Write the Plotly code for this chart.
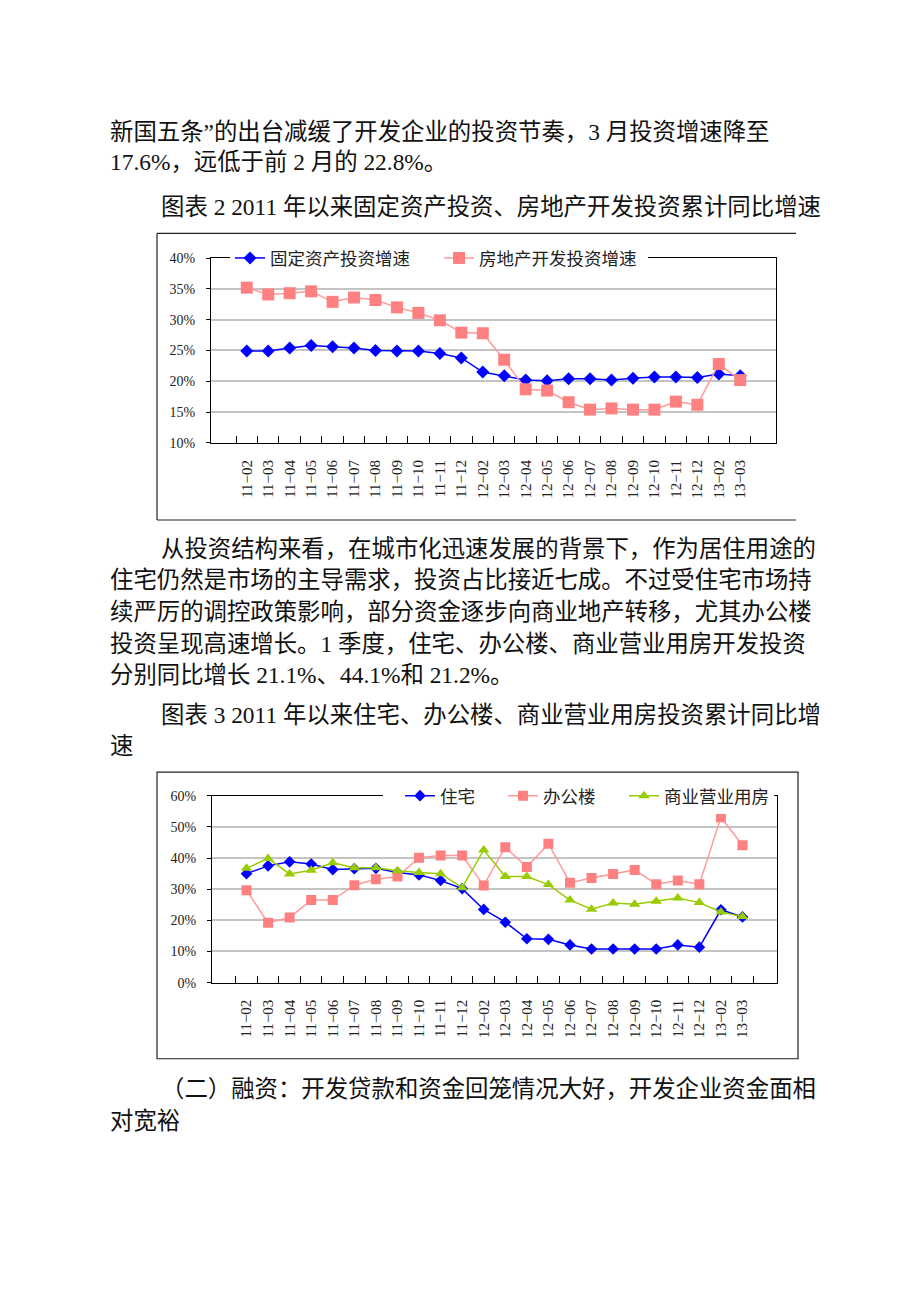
import plotly.graph_objects as go

W, H = 920, 1302

# ---------------- data ----------------
categories = ["11−02", "11−03", "11−04", "11−05", "11−06", "11−07", "11−08", "11−09",
              "11−10", "11−11", "11−12", "12−02", "12−03", "12−04", "12−05", "12−06",
              "12−07", "12−08", "12−09", "12−10", "12−11", "12−12", "13−02", "13−03"]

fixed_asset = [24.9, 24.9, 25.4, 25.8, 25.6, 25.4, 25.0, 24.9, 24.9, 24.5, 23.8,
               21.5, 20.9, 20.2, 20.1, 20.4, 20.4, 20.2, 20.5, 20.7, 20.7, 20.6,
               21.2, 20.9]
real_estate = [35.2, 34.1, 34.3, 34.6, 32.9, 33.6, 33.2, 32.0, 31.1, 29.9, 27.9,
               27.8, 23.5, 18.7, 18.5, 16.6, 15.4, 15.6, 15.4, 15.4, 16.7, 16.2,
               22.8, 20.2]

residential = [35.0, 37.5, 38.8, 38.1, 36.3, 36.6, 36.7, 35.4, 34.6, 32.8, 30.2,
               23.5, 19.4, 14.1, 13.9, 12.1, 10.8, 10.8, 10.8, 10.8, 12.1, 11.4,
               23.4, 21.1]
office = [29.7, 19.2, 20.9, 26.5, 26.5, 31.3, 33.2, 34.1, 40.1, 40.8, 40.8,
          31.2, 43.5, 37.1, 44.6, 32.1, 33.6, 34.9, 36.2, 31.6, 32.8, 31.6,
          53.1, 44.1]
commercial = [36.7, 39.9, 34.9, 36.1, 38.5, 36.9, 36.9, 35.9, 35.4, 35.0, 30.5,
              42.6, 34.1, 34.1, 31.5, 26.5, 23.6, 25.6, 25.2, 26.1, 27.2, 25.7,
              22.7, 21.2]

chart1_names = ["固定资产投资增速", "房地产开发投资增速"]
chart2_names = ["住宅", "办公楼", "商业营业用房"]

chart1_ticks = [10, 15, 20, 25, 30, 35, 40]
chart2_ticks = [0, 10, 20, 30, 40, 50, 60]

text_lines = [
    "新国五条”的出台减缓了开发企业的投资节奏，3 月投资增速降至",
    "17.6%，远低于前 2 月的 22.8%。",
    "图表 2 2011 年以来固定资产投资、房地产开发投资累计同比增速",
    "从投资结构来看，在城市化迅速发展的背景下，作为居住用途的",
    "住宅仍然是市场的主导需求，投资占比接近七成。不过受住宅市场持",
    "续严厉的调控政策影响，部分资金逐步向商业地产转移，尤其办公楼",
    "投资呈现高速增长。1 季度，住宅、办公楼、商业营业用房开发投资",
    "分别同比增长 21.1%、44.1%和 21.2%。",
    "图表 3 2011 年以来住宅、办公楼、商业营业用房投资累计同比增",
    "速",
    "（二）融资：开发贷款和资金回笼情况大好，开发企业资金面相",
    "对宽裕",
]
# layout of the text lines (left x, centre y) in pixels
text_pos = [(108, 126), (108, 157), (159, 202), (159, 548), (108, 580), (108, 612),
            (108, 644), (108, 676), (159, 716), (108, 748), (159, 1095), (108, 1127)]

# ---------------- helpers ----------------
def px(x):
    return x / W

def py(y):
    return 1 - y / H

BLUE = "#0000FF"
PINK = "#FF8080"
PINK_LINE = "#FF9A9A"
GREEN = "#99CC00"
CJK = "Noto Sans CJK SC"
SERIF = "Liberation Serif, Noto Sans CJK SC"

fig = go.Figure()

fig.add_trace(go.Scatter(x=categories, y=fixed_asset, name=chart1_names[0], mode="lines+markers",
                         line=dict(color=BLUE, width=1.5),
                         marker=dict(symbol="diamond", size=10, color=BLUE),
                         xaxis="x", yaxis="y", legend="legend"))
fig.add_trace(go.Scatter(x=categories, y=real_estate, name=chart1_names[1], mode="lines+markers",
                         line=dict(color=PINK_LINE, width=1.5),
                         marker=dict(symbol="square", size=12, color=PINK),
                         xaxis="x", yaxis="y", legend="legend"))

fig.add_trace(go.Scatter(x=categories, y=residential, name=chart2_names[0], mode="lines+markers",
                         line=dict(color=BLUE, width=1.5),
                         marker=dict(symbol="diamond", size=9, color=BLUE),
                         xaxis="x2", yaxis="y2", legend="legend2"))
fig.add_trace(go.Scatter(x=categories, y=office, name=chart2_names[1], mode="lines+markers",
                         line=dict(color=PINK_LINE, width=1.5),
                         marker=dict(symbol="square", size=10, color=PINK),
                         xaxis="x2", yaxis="y2", legend="legend3"))
fig.add_trace(go.Scatter(x=categories, y=commercial, name=chart2_names[2], mode="lines+markers",
                         line=dict(color=GREEN, width=1.5),
                         marker=dict(symbol="triangle-up", size=10, color=GREEN),
                         xaxis="x2", yaxis="y2", legend="legend4"))

xcommon = dict(type="category", categoryorder="array", categoryarray=categories,
               tickson="boundaries", ticks="inside", ticklen=7, tickcolor="black",
               showline=True, linecolor="black", linewidth=1, mirror=True,
               showgrid=False, tickangle=-90,
               tickfont=dict(family="Liberation Serif", size=15, color="#222"),
               ticklabelstandoff=10)
ycommon = dict(ticks="outside", ticklen=4, tickcolor="black",
               showline=True, linecolor="black", linewidth=1, mirror=True,
               showgrid=True, gridcolor="#C4C4C4", gridwidth=1.5, zeroline=False,
               ticklabelstandoff=8,
               tickfont=dict(family="Liberation Serif", size=14, color="#222"))

legfont = dict(family=CJK, size=17.5, color="#222")

def leg(x, y, ew):
    return dict(x=px(x), y=py(y), xanchor="left", yanchor="middle",
                orientation="h", bgcolor="white", borderwidth=0,
                font=legfont, entrywidth=ew, itemwidth=30)

layout = dict(
    width=W, height=H,
    margin=dict(l=0, r=0, t=0, b=0),
    paper_bgcolor="white", plot_bgcolor="white",
    showlegend=True,
    xaxis=dict(xcommon, domain=[px(211), px(776)], anchor="y"),
    yaxis=dict(ycommon, domain=[py(441), py(254)], anchor="x",
               range=[10, 40], tickvals=chart1_ticks,
               ticktext=[f"{v}%" for v in chart1_ticks]),
    xaxis2=dict(xcommon, domain=[px(212), px(777)], anchor="y2"),
    yaxis2=dict(ycommon, domain=[py(987), py(798)], anchor="x2",
                range=[0, 60], tickvals=chart2_ticks,
                ticktext=[f"{v}%" for v in chart2_ticks]),
    legend=leg(230, 254, 164),
    legend2=leg(400, 798, 0),
    legend3=leg(503, 798, 0),
    legend4=leg(624, 798, 0),
)
fig.update_layout(**layout)

shapes = [
    dict(type="line", xref="paper", yref="paper", x0=px(157), x1=px(796), y0=py(229), y1=py(229)),
    dict(type="line", xref="paper", yref="paper", x0=px(157), x1=px(157), y0=py(229), y1=py(519)),
    dict(type="line", xref="paper", yref="paper", x0=px(157), x1=px(796), y0=py(519), y1=py(519)),
    dict(type="rect", xref="paper", yref="paper", x0=px(157), x1=px(798), y0=py(1064), y1=py(774)),
]
for s in shapes:
    s["line"] = dict(color="#222", width=1.2)
# white band behind the chart-2 legend, hiding the top frame line there
shapes.append(dict(type="rect", xref="paper", yref="paper", layer="above",
                   x0=px(383), x1=px(774), y0=py(808), y1=py(789),
                   fillcolor="white", line=dict(width=0)))
fig.update_layout(shapes=shapes)

for txt, (x, y) in zip(text_lines, text_pos):
    fig.add_annotation(text=txt, x=px(x), y=py(y), xref="paper", yref="paper",
                       xanchor="left", yanchor="middle", showarrow=False,
                       font=dict(family=SERIF, size=23.4, color="#111"))

post = ("document.documentElement.style.margin='0';"
        "document.documentElement.style.overflow='hidden';"
        "document.body.style.margin='0';document.body.style.padding='0';"
        "document.body.style.overflow='hidden';"
        "var d=document.getElementById('{plot_id}');"
        "d.style.position='fixed';d.style.top='0px';d.style.left='0px';")
fig.write_html("out.html", post_script=post, config={"displayModeBar": False})
